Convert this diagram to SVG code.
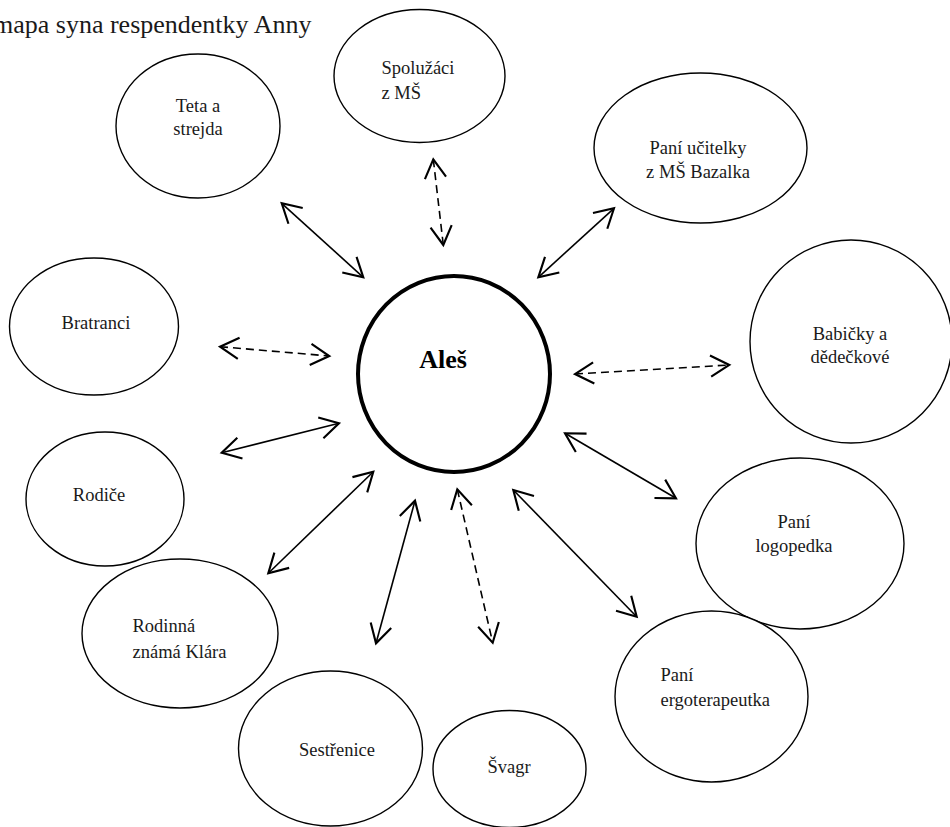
<svg xmlns="http://www.w3.org/2000/svg" width="950" height="827" viewBox="0 0 950 827">
<defs>
<style>
.n{fill:#fff;stroke:#000;stroke-width:1.4}
.c{fill:#fff;stroke:#000;stroke-width:4}
.t{font-family:"Liberation Serif","Times New Roman",serif;font-size:18.5px;fill:#1a1a1a}
.m{text-anchor:middle}
.b{font-weight:bold;font-size:26px;fill:#000}
.e{fill:none;stroke:#000;stroke-width:1.6}
.d{stroke-dasharray:8 5}
</style>
<marker id="ah" markerUnits="userSpaceOnUse" markerWidth="30" markerHeight="30" viewBox="-20 -12 24 24" refX="0" refY="0" orient="auto-start-reverse" overflow="visible">
<path d="M-15,-8.5 L0,0 L-15,8.5" fill="none" stroke="#000" stroke-width="1.7" stroke-dasharray="none"/>
</marker>
</defs>
<rect width="950" height="827" fill="#fff"/>
<text x="-7" y="33" class="t" style="font-size:26px">mapa syna respendentky Anny</text>

<g id="connectors">
<line class="e" x1="281.7" y1="203.3" x2="363.3" y2="277.3" marker-start="url(#ah)" marker-end="url(#ah)"/>
<line class="e d" x1="433.3" y1="159.3" x2="443.3" y2="245" marker-start="url(#ah)" marker-end="url(#ah)"/>
<line class="e" x1="614" y1="208.3" x2="538.3" y2="277.3" marker-start="url(#ah)" marker-end="url(#ah)"/>
<line class="e d" x1="220" y1="346.7" x2="329.3" y2="356" marker-start="url(#ah)" marker-end="url(#ah)"/>
<line class="e d" x1="575" y1="374" x2="729.3" y2="365" marker-start="url(#ah)" marker-end="url(#ah)"/>
<line class="e" x1="221.7" y1="452.7" x2="339" y2="423.3" marker-start="url(#ah)" marker-end="url(#ah)"/>
<line class="e" x1="268.3" y1="573.3" x2="373.3" y2="471.7" marker-start="url(#ah)" marker-end="url(#ah)"/>
<line class="e" x1="415" y1="500.7" x2="376" y2="643.3" marker-start="url(#ah)" marker-end="url(#ah)"/>
<line class="e d" x1="457.3" y1="489.3" x2="492.7" y2="642.7" marker-start="url(#ah)" marker-end="url(#ah)"/>
<line class="e" x1="513.3" y1="490" x2="636.7" y2="616.7" marker-start="url(#ah)" marker-end="url(#ah)"/>
<line class="e" x1="565" y1="433.3" x2="676" y2="498.3" marker-start="url(#ah)" marker-end="url(#ah)"/>
</g>

<g id="teta">
<ellipse class="n" cx="198" cy="126" rx="82" ry="72"/>
<text class="t m" x="198" y="111.5">Teta a</text>
<text class="t m" x="198" y="134.5">strejda</text>
</g>
<g id="spoluzaci">
<ellipse class="n" cx="419.5" cy="76" rx="85.5" ry="66.5"/>
<text class="t" x="381.5" y="74">Spolužáci</text>
<text class="t" x="381.5" y="98.5">z MŠ</text>
</g>
<g id="ucitelky">
<ellipse class="n" cx="700.5" cy="148" rx="106.5" ry="75"/>
<text class="t m" x="698" y="154">Paní učitelky</text>
<text class="t m" x="698" y="178">z MŠ Bazalka</text>
</g>
<g id="babicky">
<ellipse class="n" cx="851" cy="341.5" rx="101" ry="101.5"/>
<text class="t m" x="850" y="340">Babičky a</text>
<text class="t m" x="850" y="363">dědečkové</text>
</g>
<g id="bratranci">
<ellipse class="n" cx="94" cy="326.5" rx="84.5" ry="68.5"/>
<text class="t m" x="96" y="329">Bratranci</text>
</g>
<g id="rodice">
<ellipse class="n" cx="105" cy="499" rx="79" ry="67"/>
<text class="t m" x="99" y="500.5">Rodiče</text>
</g>
<g id="klara">
<ellipse class="n" cx="180" cy="633.5" rx="98" ry="74.5"/>
<text class="t" x="132.5" y="632">Rodinná</text>
<text class="t" x="132.5" y="658">známá Klára</text>
</g>
<g id="sestrenice">
<ellipse class="n" cx="330.5" cy="748.5" rx="92" ry="77.5"/>
<text class="t m" x="337" y="756">Sestřenice</text>
</g>
<g id="svagr">
<ellipse class="n" cx="509.5" cy="769" rx="76.5" ry="58.5"/>
<text class="t m" x="509" y="773">Švagr</text>
</g>
<g id="logopedka">
<ellipse class="n" cx="800" cy="543.5" rx="104" ry="85.5"/>
<text class="t m" x="794" y="528">Paní</text>
<text class="t m" x="794" y="552">logopedka</text>
</g>
<g id="ergoterapeutka">
<ellipse class="n" cx="711.5" cy="696.5" rx="96.5" ry="85.5"/>
<text class="t" x="660.5" y="680.5">Paní</text>
<text class="t" x="660.5" y="705.5">ergoterapeutka</text>
</g>
<g id="ales">
<ellipse class="c" cx="454" cy="374" rx="96" ry="98"/>
<text class="t m b" x="443" y="368">Aleš</text>
</g>
</svg>
